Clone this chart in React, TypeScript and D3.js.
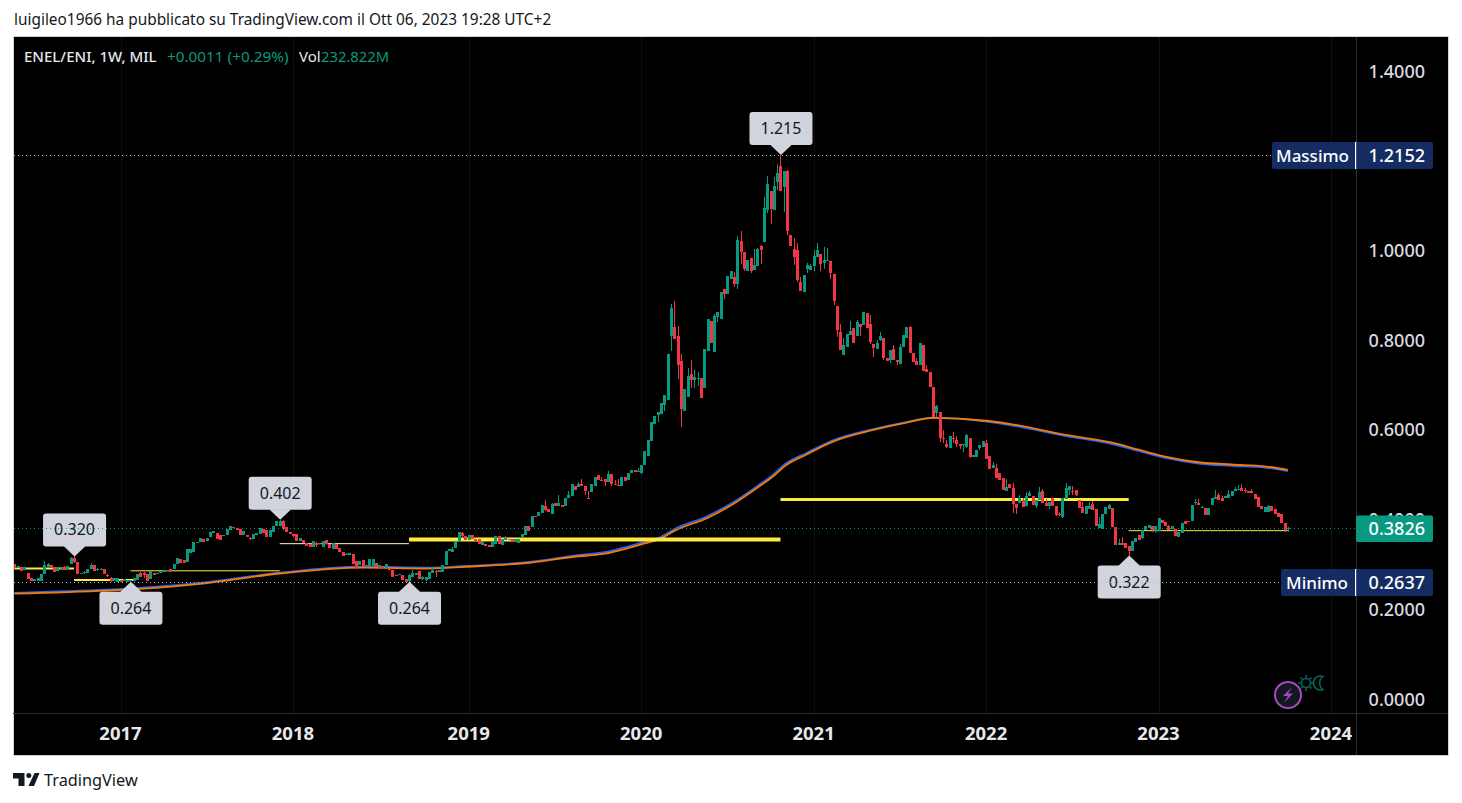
import React from "react";
import * as d3 from "d3";

// Weekly candles as [open, close, high?, low?]; high/low omitted when there is no visible wick.
type C = number[];
const candles2016: C[] = [
[.304,.295],[.295,.298],[.297,.287],[.289,.296],[.284,.269],[.272,.265],[.266,.270],[.266,.272],[.266,.281],[.281,.300,.310,.281],
[.296,.304,.306,.296],[.302,.295],[.297,.286],[.287,.294],[.291,.295],[.296,.292,.298,.289],[.291,.299],[.304,.316,.319,.304],[.317,.307,.320,.305],[.308,.281],
[.281,.283],[.283,.285,.287,.282],[.284,.292],[.292,.302,.306,.292],[.302,.287],[.289,.292,.294,.288],[.290,.292,.295,.289],[.293,.280],[.278,.277,.281,.274],[.272,.265,.274,.264],
[.265,.271],[.264,.271],
];
const candles2017: C[] = [
[.268,.264],[.266,.269,.270,.265],[.264,.267],[.265,.267,.268,.2637],[.266,.272],[.268,.281],[.284,.275,.286,.274],[.283,.278,.285,.272],[.280,.266],[.269,.287],
[.284,.278],[.280,.284],[.284,.287],[.285,.289],[.287,.290],[.292,.286],[.293,.304],[.303,.317],[.314,.305],[.313,.305],
[.307,.336],[.328,.337],[.331,.353],[.350,.353],[.352,.362],[.359,.352],[.354,.362],[.363,.374],[.372,.376],[.372,.360],
[.367,.357],[.365,.368],[.367,.382],[.380,.387],[.386,.383],[.384,.380],[.381,.368],[.368,.377],[.368,.363],[.362,.359,.363,.356],
[.358,.369],[.367,.372],[.371,.383],[.381,.372],[.380,.363],[.363,.378],[.374,.387],[.387,.399],[.387,.400,.402,.387],[.400,.381,.401,.380],
[.385,.374],[.374,.369],
];
const candles2018: C[] = [
[.369,.365,.371,.364],[.369,.354],[.354,.362],[.356,.350],[.350,.343],[.347,.341],[.342,.354],[.351,.345,.352,.341],[.351,.347],[.342,.354],
[.357,.348],[.348,.339],[.337,.350],[.348,.337],[.338,.329],[.330,.321],[.323,.326,.328,.323],[.324,.328],[.326,.304],[.309,.295],
[.300,.309],[.313,.298],[.298,.302],[.298,.315],[.298,.315],[.305,.296],[.295,.301],[.298,.294],[.294,.304],[.294,.289],
[.289,.275],[.278,.277,.279,.276],[.278,.280],[.279,.268],[.269,.264],[.2645,.279,.280,.2637],[.275,.283,.289,.275],[.279,.284],[.287,.269],[.270,.274,.276,.267],
[.267,.274,.275,.266],[.269,.286],[.284,.290,.297,.284],[.287,.286,.289,.275],[.285,.289],[.285,.301],[.301,.333],[.333,.336],[.330,.337,.342,.330],[.338,.353],
[.352,.375],[.372,.365,.374,.364],[.366,.356],
];
const candles2019: C[] = [
[.356,.367],[.367,.359],[.360,.355],[.358,.348],[.345,.353],[.347,.344],[.345,.341],[.342,.353],[.348,.365],[.365,.347],
[.345,.359],[.357,.361,.366,.357],[.360,.357],[.359,.352],[.354,.358],[.350,.360],[.363,.371],[.367,.389],[.388,.376],[.385,.411],
[.411,.407],[.411,.420],[.417,.434],[.432,.423,.445,.422],[.426,.419],[.415,.437,.439,.414],[.440,.432],[.433,.440,.458,.433],[.434,.430],[.433,.451],
[.451,.456,.465,.451],[.454,.481],[.478,.469],[.475,.481,.487,.475],[.481,.478,.492,.478],[.476,.467,.476,.456],[.451,.450,.465,.449],[.463,.482],[.478,.498],[.501,.490],
[.490,.488,.497,.488],[.492,.487,.492,.476],[.486,.504,.510,.486],[.503,.481,.503,.476],[.482,.481,.491,.481],[.480,.478,.492,.476],[.478,.498],[.498,.488],[.490,.507],[.506,.513],
[.513,.508],[.508,.510,.517,.508],
];
const candles2020: C[] = [
[.505,.525,.525,.504],[.525,.554],[.543,.579],[.577,.619],[.615,.633],[.635,.641,.641,.619],[.637,.661],[.657,.679,.679,.644],[.668,.771],[.812,.874,.882,.778],
[.831,.804,.889,.804],[.811,.746,.833,.715],[.755,.648,.771,.609],[.644,.693],[.675,.722,.741,.675],[.726,.713,.757,.695],[.713,.719,.735,.695],[.716,.718,.731,.699],[.717,.673],[.695,.783],
[.778,.849],[.844,.795],[.775,.856,.860,.775],[.854,.865,.865,.843],[.850,.910],[.917,.905,.917,.895],[.905,.945],[.939,.956],[.942,.928,.954,.921],[.927,1.025,1.034,.917],
[1.023,.998,1.045,.973],[.998,.960,.998,.957],[.957,.980],[.986,.956,.986,.951],[.958,.969,1.005,.958],[.968,1.006,1.008,.968],[1.012,1.003,1.015,.973],[1.021,1.097,1.122,1.021],[1.092,1.150,1.168,1.085],[1.134,1.094,1.134,1.062],
[1.092,1.146,1.165,1.092],[1.155,1.174,1.196,1.137],[1.190,1.135,1.2152,1.135],[1.143,1.179,1.179,1.088],[1.179,1.045,1.181,1.036],[1.036,1.012],[1.005,.987,1.029,.969],[1.003,.936,1.018,.931],[.931,.911,.943,.911],[.909,.947],
[.960,.969,.974,.952],[.958,.967,.973,.958],
];
const candles2021: C[] = [
[.967,.989,1.003,.957],[.987,1.003,1.018,.987],[.994,.973,.994,.957],[.974,.980,1.010,.960],[.978,.980,1.008,.978],[.978,.951,.978,.939],[.949,.889,.949,.880],[.878,.824,.878,.809],[.820,.780,.839,.780],[.768,.791,.808,.768],
[.786,.815],[.813,.822,.844,.813],[.829,.795],[.811,.842,.847,.811],[.839,.832,.839,.811],[.835,.864],[.862,.829],[.838,.798,.858,.793],[.793,.784,.793,.765],[.783,.795,.802,.783],
[.803,.811,.820,.800],[.806,.762,.806,.757],[.762,.755],[.757,.780,.780,.751],[.782,.757,.791,.757],[.759,.753,.759,.746],[.750,.786,.794,.750],[.786,.813],[.806,.831],[.832,.773,.833,.773],
[.773,.753],[.755,.746,.762,.746],[.746,.795],[.791,.734],[.738,.731,.746,.731],[.731,.698],[.698,.632],[.640,.655,.658,.631],[.641,.583,.641,.575],[.583,.582,.603,.573],
[.570,.563,.579,.562],[.562,.589],[.585,.582,.598,.573],[.580,.571,.588,.565],[.571,.566,.571,.560],[.569,.571,.571,.553],[.565,.590,.594,.562],[.583,.541,.583,.539],[.541,.547],[.541,.558],
[.562,.568,.568,.558],[.565,.577],
];
const candles2022: C[] = [
[.574,.538,.580,.538],[.543,.515],[.517,.525,.530,.517],[.518,.494,.527,.494],[.507,.491],[.495,.469],[.467,.475,.492,.467],[.481,.472],[.472,.437,.483,.417],[.437,.427,.437,.415],
[.439,.451,.456,.439],[.445,.430,.450,.430],[.432,.454,.464,.432],[.454,.461,.466,.454],[.454,.435],[.432,.445,.445,.427],[.445,.463,.475,.445],[.465,.439,.471,.439],[.439,.432,.449,.432],[.432,.441,.441,.425],
[.451,.433],[.433,.412,.433,.410],[.415,.413,.418,.410],[.409,.451,.451,.405],[.449,.472,.484,.449],[.469,.476,.476,.456],[.467,.465,.478,.456],[.469,.457,.469,.455],[.445,.427],[.430,.417,.441,.417],
[.415,.432],[.426,.432,.441,.426],[.438,.423,.443,.423],[.425,.389],[.383,.393,.408,.383],[.382,.414],[.414,.430],[.426,.434,.437,.426],[.429,.385],[.385,.345],
[.345,.350,.359,.345],[.350,.345,.363,.345],[.350,.338],[.344,.333,.344,.322],[.333,.354],[.352,.362],[.367,.357],[.362,.378,.378,.358],[.378,.387],[.384,.391],
[.388,.378,.388,.374],[.377,.389,.389,.372],
];
const candles2023: C[] = [
[.376,.405],[.402,.394],[.396,.387],[.387,.380,.390,.380],[.382,.389],[.382,.365],[.363,.374],[.372,.395],[.399,.393],[.399,.397],
[.399,.434],[.440,.441,.447,.434],[.439,.434,.447,.434],[.429,.431,.433,.428],[.429,.412],[.412,.429],[.434,.451],[.448,.452,.469,.448],[.456,.446,.461,.446],[.451,.444,.454,.444],
[.450,.454],[.451,.460,.469,.451],[.454,.467],[.467,.470,.475,.467],[.469,.471,.479,.469],[.472,.466,.482,.466],[.468,.467,.472,.461],[.466,.461],[.467,.461,.471,.461],[.460,.449],
[.453,.430],[.432,.426],[.418,.430],[.419,.432,.434,.419],[.432,.421],[.425,.415],[.417,.409],[.415,.394],[.395,.378,.395,.374],[.3815,.3826,.386,.374],
];
const candles: C[] = [...candles2016, ...candles2017, ...candles2018, ...candles2019, ...candles2020, ...candles2021, ...candles2022, ...candles2023];

// Moving averages, read at these week numbers (0 = first candle)
const maWeeks = [0,56,80,105,125,136,156,170,177,189,195,199,209,217,224,229,232,239,247,259,269,277,293,301,317,331,339,347,357,367,377,384];
const maBlue = [.239,.2608,.2838,.2971,.2949,.2987,.3083,.3232,.3284,.3506,.364,.3812,.4102,.442,.477,.5038,.5238,.5513,.5796,.6041,.6197,.6293,.6208,.6119,.5885,.5707,.5551,.5395,.5272,.5221,.5183,.5105];
const maOrange = [.237,.259,.282,.295,.293,.297,.3065,.3205,.325,.347,.360,.377,.406,.438,.473,.4998,.5198,.548,.5766,.602,.6185,.629,.6225,.6145,.591,.5735,.558,.5425,.530,.525,.521,.513];

// Horizontal drawings: first week, last week, price, weight
const levelFrom = [0, 18, 35, 80, 119, 231, 336];
const levelTo = [18, 36, 80, 119, 231, 336, 384];
const levelPrice = [.2934, .2673, .288, .3485, .358, .447, .3775];
const levelWeight = [2, 2, 1, 1, 4, 3, 1];
const levelColor = ["#ffeb3b", "#ffeb3b", "#ffeb3b", "#fff9c4", "#ffeb3b", "#ffeb3b", "#ffeb3b"];

// Callouts
const calloutWeek = [18, 35, 80, 119, 231, 336];
const calloutPrice = [.320, .2637, .402, .2637, 1.2152, .322];
const calloutText = ["0.320", "0.264", "0.402", "0.264", "1.215", "0.322"];
const calloutAbove = [true, false, true, false, true, false];

const priceTicks = [0, 0.2, 0.4, 0.6, 0.8, 1.0, 1.4];
const yearTicks = [
  ["2017", "2017-01-02"], ["2018", "2018-01-01"], ["2019", "2019-01-07"], ["2020", "2020-01-06"],
  ["2021", "2021-01-04"], ["2022", "2022-01-03"], ["2023", "2023-01-02"], ["2024", "2024-01-01"],
];
const lastPrice = 0.3826, highPrice = 1.2152, lowPrice = 0.2637;
const firstWeek = "2016-05-23";

const GREEN = "#089981", RED = "#f23645", NAVY = "#152c63", BOX = "#d1d4dc";
const FONT = "'Noto Sans', sans-serif";

const x = d3.scaleUtc().domain([new Date("2017-01-02"), new Date("2024-01-01")]).range([120.5, 1331]);
const y = d3.scaleLinear().domain([0, 1.4]).range([700, 72]);
const weekX = (k: number) => x(new Date(Date.parse(firstWeek) + k * 7 * 864e5));
const rowY = (p: number) => Math.round(y(p)) + 0.5;

const maLine = (vals: number[]) =>
  d3.line<number>().x((_, i) => weekX(maWeeks[i])).y((v) => y(v)).curve(d3.curveMonotoneX)(vals) || "";

const Tag = ({ label, value, py }: { label: string; value: number; py: number }) => {
  const left = label === "Massimo" ? 1272 : 1281;
  return (
    <g>
      <rect x={left} y={py - 13.5} width={1433 - left} height={27} rx={2} fill={NAVY} />
      <rect x={1355} y={py - 13.5} width={1.2} height={27} fill="#fff" />
      <text x={(left + 1355) / 2 - 1} y={py + 6} textAnchor="middle" fontSize={17} fill="#fff" fontWeight={500}>{label}</text>
      <text x={1425} y={py + 6.5} textAnchor="end" fontSize={18} fill="#fff" fontWeight={500}>{value.toFixed(4)}</text>
    </g>
  );
};

export default function App() {
  return (
    <svg width={1462} height={803} style={{ position: "absolute", left: 0, top: 0, background: "#fff" }} fontFamily={FONT}>
      <text x={14} y={25} fontSize={15.4} fill="#131722">luigileo1966 ha pubblicato su TradingView.com il Ott 06, 2023 19:28 UTC+2</text>
      <rect x={13.5} y={36.5} width={1435} height={719} fill="#000" stroke="#d1d4dc" strokeWidth={1} />
      <clipPath id="pane"><rect x={14} y={37} width={1342} height={676} /></clipPath>

      {yearTicks.map(([l, d]) => {
        const px = Math.round(x(new Date(d))) + 0.5;
        return <line key={l} x1={px} x2={px} y1={37} y2={713} stroke="#0f0f0f" />;
      })}

      <g clipPath="url(#pane)">
        <path d={maLine(maBlue)} fill="none" stroke="#2962ff" strokeWidth={1.8} />
        <path d={maLine(maOrange)} fill="none" stroke="#f57c00" strokeWidth={1.8} />
        {levelFrom.map((f, i) => (
          <line key={i} x1={weekX(f)} x2={weekX(levelTo[i])} y1={y(levelPrice[i])} y2={y(levelPrice[i])}
            stroke={levelColor[i]} strokeWidth={levelWeight[i]} />
        ))}
        <g shapeRendering="crispEdges">
          {candles.map((c, k) => {
            const [o, cl] = c;
            const h = c[2] ?? Math.max(o, cl);
            const l = c[3] ?? Math.min(o, cl);
            const col = cl >= o ? GREEN : RED;
            const cx = Math.round(weekX(k));
            const top = y(Math.max(o, cl));
            const bh = Math.max(1, y(Math.min(o, cl)) - top);
            return (
              <g key={k} fill={col}>
                <rect x={cx} y={y(h)} width={1} height={Math.max(1, y(l) - y(h))} />
                <rect x={cx - 1} y={top} width={3} height={bh} />
              </g>
            );
          })}
        </g>
      </g>

      {calloutWeek.map((k, i) => {
        const tx = weekX(k) + 0.5;
        const ty = y(calloutPrice[i]);
        const above = calloutAbove[i];
        const bh = 33, bw = 63;
        const by = above ? ty - 10 - bh : ty + 10;
        const edge = above ? ty - 10 : ty + 10;
        return (
          <g key={i}>
            <rect x={tx - bw / 2} y={by} width={bw} height={bh} rx={3} fill={BOX} />
            <path d={`M${tx - 11} ${edge + (above ? -0.5 : 0.5)} L${tx} ${ty} L${tx + 11} ${edge + (above ? -0.5 : 0.5)} Z`} fill={BOX} />
            <text x={tx} y={by + 22} textAnchor="middle" fontSize={16} fill="#131722">{calloutText[i]}</text>
          </g>
        );
      })}

      <line x1={14} x2={1356} y1={rowY(lastPrice)} y2={rowY(lastPrice)} stroke={GREEN} strokeDasharray="1 3" />
      <line x1={14} x2={1272} y1={rowY(highPrice)} y2={rowY(highPrice)} stroke="#b2b5be" strokeDasharray="1 3" />
      <line x1={14} x2={1281} y1={rowY(lowPrice)} y2={rowY(lowPrice)} stroke="#b2b5be" strokeDasharray="1 3" />

      <line x1={13} x2={1448} y1={713.5} y2={713.5} stroke="#2a2e39" />
      <line x1={1356.5} x2={1356.5} y1={37} y2={755} stroke="#2a2e39" />

      {priceTicks.map((v) => (
        <text key={v} x={1425} y={y(v) + 5.5} textAnchor="end" fontSize={18} fill="#d9dbe2" fontWeight={500}>{v.toFixed(4)}</text>
      ))}
      {yearTicks.map(([l, d]) => (
        <text key={l} x={x(new Date(d))} y={739.5} textAnchor="middle" fontSize={18.5} fontWeight={700} fill="#e8e9ee">{l}</text>
      ))}

      <Tag label="Massimo" value={highPrice} py={rowY(highPrice)} />
      <Tag label="Minimo" value={lowPrice} py={rowY(lowPrice)} />
      <rect x={1356} y={y(lastPrice) - 13} width={77} height={26.5} rx={2} fill={GREEN} />
      <text x={1425} y={y(lastPrice) + 6.5} textAnchor="end" fontSize={18} fill="#fff" fontWeight={500}>{lastPrice.toFixed(4)}</text>

      <text x={24} y={62} fontSize={15} fill="#e6e7ec" fontWeight={500}>ENEL/ENI, 1W, MIL</text>
      <text x={167} y={62} fontSize={15.3} fill={GREEN}>+0.0011 (+0.29%)</text>
      <text x={299} y={62} fontSize={15} fill="#e6e7ec">Vol</text>
      <text x={321} y={62} fontSize={14.8} fill={GREEN}>232.822M</text>

      <circle cx={1288} cy={695} r={13} fill="#131722" stroke="#ab47bc" strokeWidth={2} />
      <path d="M1292 687 L1283 696 L1288 696 L1284 703 L1293 693.5 L1288 693.5 Z" fill="#ab47bc" />
      <g stroke="#00695c" strokeWidth={1.5} fill="none">
        <circle cx={1306} cy={683} r={4.5} />
        <path d="M1306 675v3M1306 688v3M1298 683h3M1311 683h3M1300.5 677.5l2 2M1309.5 686.5l2 2M1300.5 688.5l2-2M1309.5 679.5l2-2" />
        <path d="M1323 676.5a7 7 0 1 0 0 13a8 8 0 0 1 0-13Z" />
      </g>

      <path d="M13 773 H24.5 V786 H18.5 V778.5 H13 Z M34.5 773 H39.5 L34 786 H28.5 Z" fill="#131722" />
      <circle cx={28.8} cy={775.6} r={2.5} fill="#131722" />
      <text x={44} y={786} fontSize={16.3} fill="#131722">TradingView</text>
    </svg>
  );
}
